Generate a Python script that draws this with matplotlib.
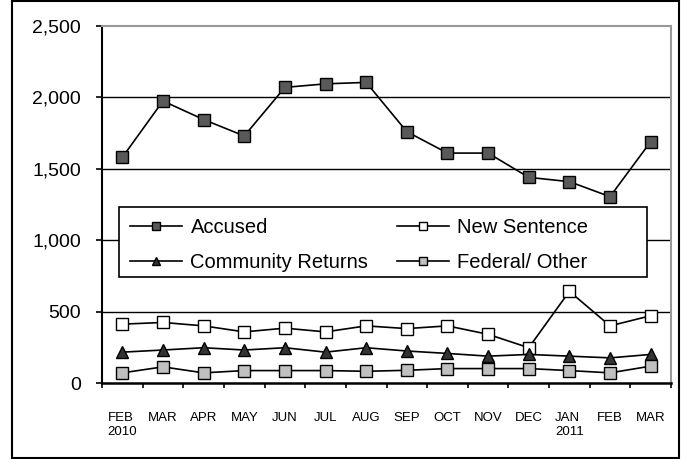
import matplotlib
matplotlib.use("Agg")
import matplotlib.pyplot as plt
from matplotlib.patches import Rectangle

plt.rcParams['font.family'] = ['Liberation Sans', 'DejaVu Sans']

months = ["FEB\n2010", "MAR", "APR", "MAY", "JUN", "JUL", "AUG", "SEP",
          "OCT", "NOV", "DEC", "JAN\n2011", "FEB", "MAR"]

accused = [1580, 1975, 1845, 1730, 2070, 2095, 2105, 1760,
           1610, 1610, 1440, 1410, 1305, 1690]
new_sentence = [412, 424, 400, 358, 384, 358, 400, 381,
                400, 341, 247, 642, 400, 471]
community = [216, 231, 247, 231, 247, 216, 247, 224,
             207, 188, 200, 188, 176, 200]
federal = [71, 113, 71, 87, 87, 87, 82, 89,
           101, 101, 101, 87, 71, 118]

yticks = [0, 500, 1000, 1500, 2000, 2500]

fig = plt.figure(figsize=(6.86, 4.59), dpi=100)
ax = fig.add_axes([102 / 686, 1 - 383 / 459, 569 / 686, 357 / 459])

x = [i + 0.5 for i in range(len(months))]
ms = 8.6
l_acc, = ax.plot(x, accused, color='black', lw=1.2, marker='s', ms=ms,
                 mfc='#595959', mec='black', mew=1.0, label='Accused', zorder=5)
l_new, = ax.plot(x, new_sentence, color='black', lw=1.2, marker='s', ms=ms,
                 mfc='white', mec='black', mew=1.0, label='New Sentence', zorder=5)
l_com, = ax.plot(x, community, color='black', lw=1.2, marker='^', ms=ms,
                 mfc='#333333', mec='black', mew=1.0, label='Community Returns', zorder=5)
l_fed, = ax.plot(x, federal, color='black', lw=1.2, marker='s', ms=ms,
                 mfc='#c0c0c0', mec='black', mew=1.0, label='Federal/ Other', zorder=5)

ax.set_xlim(0, len(months))
ax.set_ylim(0, 2500)
ax.set_yticks(yticks)
ax.set_yticklabels([f"{v:,}" for v in yticks], fontsize=14)
for v in yticks[1:-1]:
    ax.axhline(v, color='black', lw=1.0, zorder=1)

ax.set_xticks(range(len(months) + 1))
ax.set_xticklabels([])
ax.set_xticks(x, minor=True)
ax.set_xticklabels(months, minor=True, fontsize=9.5, multialignment='left')
ax.tick_params(axis='x', which='minor', length=0, pad=21)
ax.tick_params(axis='x', which='major', length=3.6, width=1.2, direction='out')
ax.tick_params(axis='y', length=4.3, width=1.2, direction='out', pad=11)

ax.spines['left'].set_linewidth(1.5)
ax.spines['bottom'].set_linewidth(1.8)
ax.spines['top'].set_color('#999999')
ax.spines['right'].set_color('#999999')
ax.spines['top'].set_linewidth(1.5)
ax.spines['right'].set_linewidth(1.5)

# legend box drawn separately so it can be wider than its contents
ax.add_patch(Rectangle((17 / 569, 106 / 357), 528 / 569, 70 / 357,
                       transform=ax.transAxes, facecolor='white',
                       edgecolor='black', lw=1.2, zorder=9))
leg = ax.legend([l_acc, l_com, l_new, l_fed],
                ['Accused', 'Community Returns', 'New Sentence', 'Federal/ Other'],
                loc='upper left', bbox_to_anchor=(17 / 569, 176 / 357),
                ncol=2, fontsize=14.5, frameon=False,
                markerscale=0.7, handlelength=2.6, borderpad=0.55,
                labelspacing=0.78, columnspacing=1.4, handletextpad=0.4,
                borderaxespad=0)
leg.set_zorder(10)

fig.patches.append(Rectangle((12 / 686, 1 / 459), 667 / 686, 457 / 459,
                             transform=fig.transFigure, fill=False,
                             edgecolor='black', lw=1.5))

fig.savefig("out.png", dpi=100)
